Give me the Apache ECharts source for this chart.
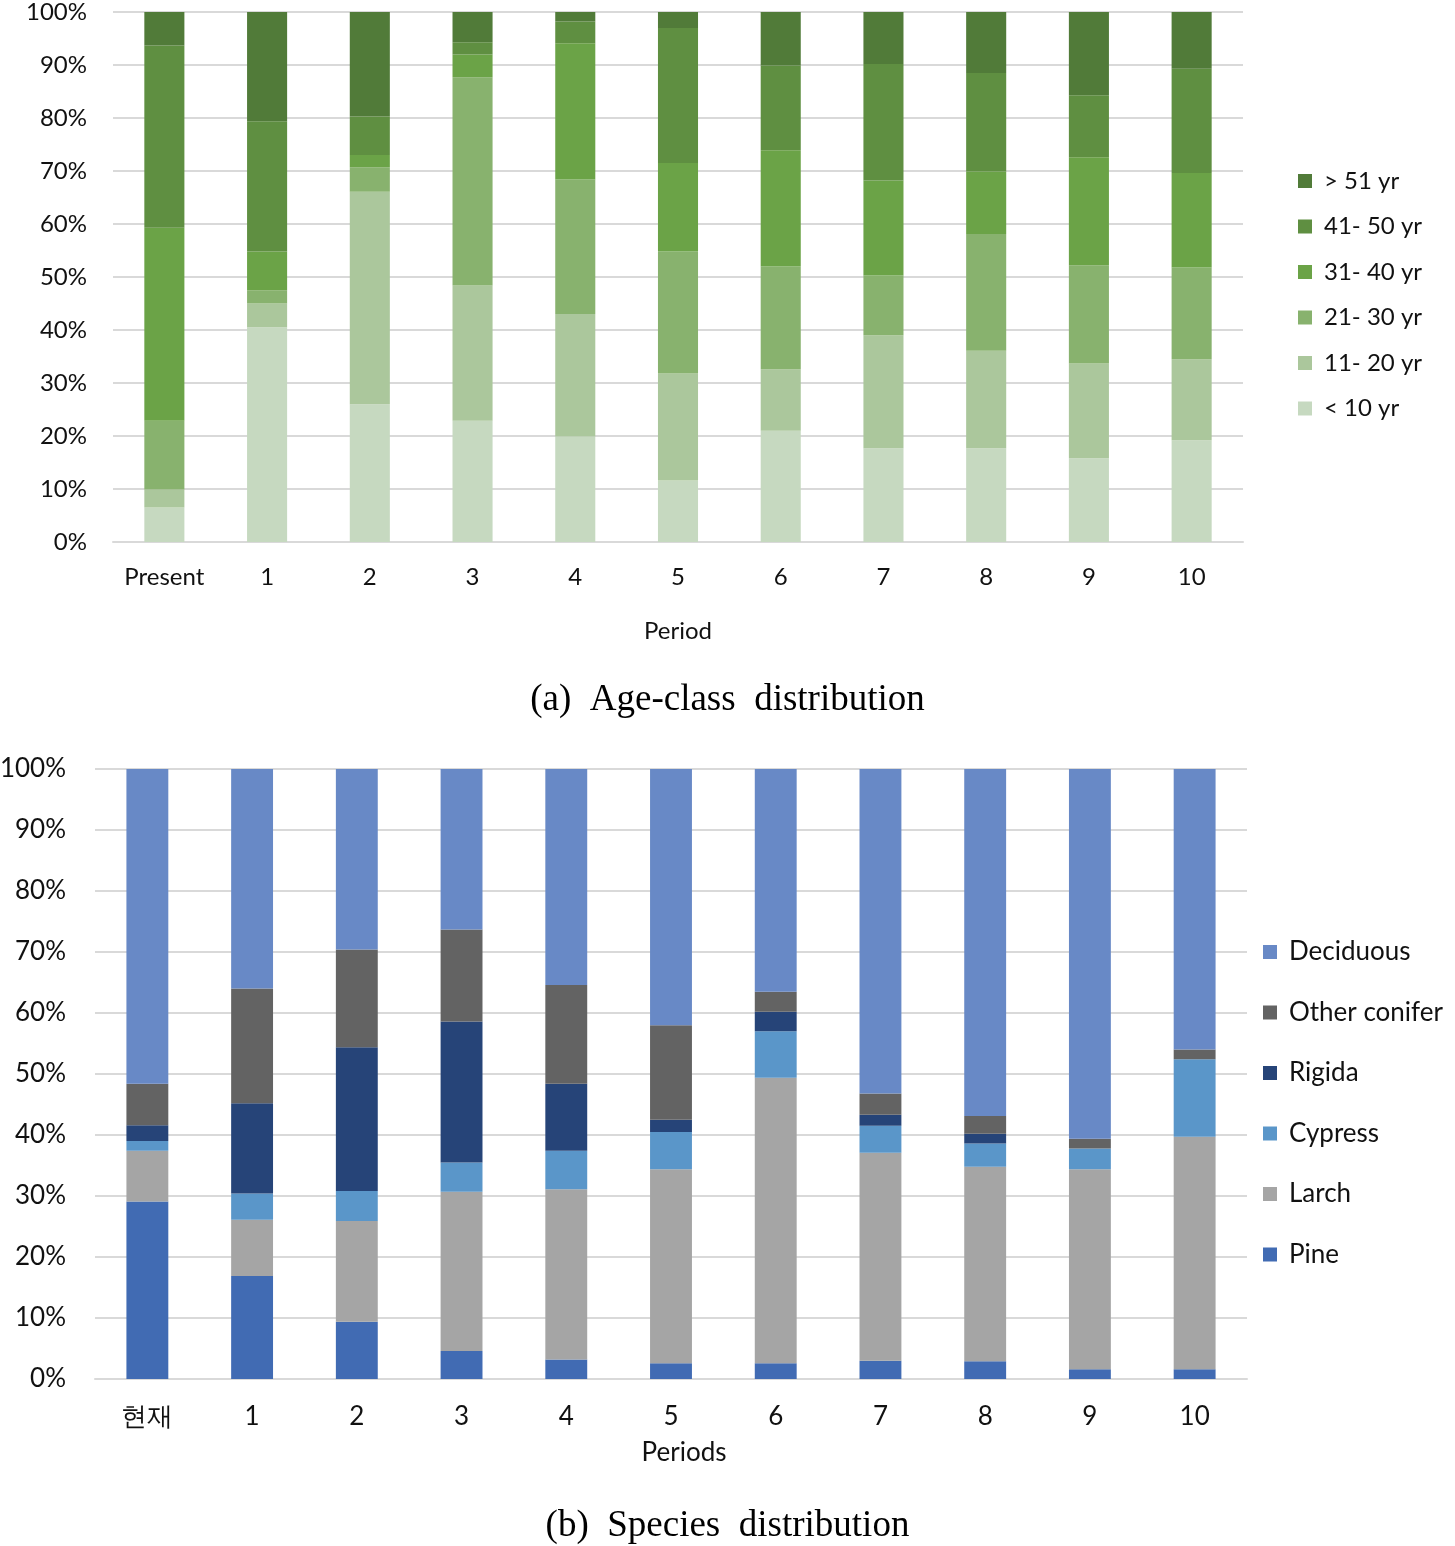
<!DOCTYPE html>
<html>
<head>
<meta charset="utf-8">
<script src="https://cdn.jsdelivr.net/npm/echarts@6/dist/echarts.min.js"></script>
<style>
html,body{margin:0;padding:0;background:#fff;}
#c{width:1455px;height:1546px;}
</style>
</head>
<body>
<div id="c"></div>
<script>
// ---- Chart (a): Age-class distribution ----
var ageCategories = ['Present','1','2','3','4','5','6','7','8','9','10'];
var ageNames = ['< 10 yr','11- 20 yr','21- 30 yr','31- 40 yr','41- 50 yr','> 51 yr'];
var ageLt10   = [6.5, 40.5, 26.0, 22.9, 19.9, 11.6, 21.0, 17.7, 17.7, 15.8, 19.2];
var age11_20  = [3.4,  4.5, 40.1, 25.5, 23.1, 20.2, 11.6, 21.3, 18.4, 17.9, 15.3];
var age21_30  = [13.0, 2.5,  4.6, 39.3, 25.4, 23.0, 19.4, 11.3, 22.0, 18.5, 17.3];
var age31_40  = [36.4, 7.3,  2.3,  4.3, 25.7, 16.7, 21.9, 17.9, 11.8, 20.4, 17.8];
var age41_50  = [34.4, 24.6, 7.3,  2.3,  4.1, 25.5, 16.0, 22.0, 18.6, 11.7, 19.7];
var ageGt51   = [6.3, 20.6, 19.7,  5.7,  1.8,  3.0, 10.1,  9.8, 11.5, 15.7, 10.7];
var ageColors = ['#c6d9c0','#abc79c','#88b26e','#6ba347','#5f8f41','#517b39'];

// ---- Chart (b): Species distribution ----
var spCategories = ['현재','1','2','3','4','5','6','7','8','9','10'];
var spNames = ['Pine','Larch','Cypress','Rigida','Other conifer','Deciduous'];
var spPine      = [29.1, 16.9,  9.4,  4.6,  3.2,  2.6,  2.6,  3.0,  2.9,  1.6,  1.6];
var spLarch     = [8.3,   9.2, 16.5, 26.1, 27.9, 31.8, 46.8, 34.1, 31.9, 32.8, 38.1];
var spCypress   = [1.6,   4.3,  4.9,  4.8,  6.3,  6.1,  7.6,  4.4,  3.8,  3.4, 12.7];
var spRigida    = [2.6,  14.8, 23.6, 23.1, 11.0,  2.0,  3.2,  1.8,  1.6,  0.0,  0.0];
var spOther     = [6.8,  18.8, 16.0, 15.1, 16.2, 15.5,  3.3,  3.5,  2.9,  1.6,  1.6];
var spDeciduous = [51.6, 36.0, 29.6, 26.3, 35.4, 42.0, 36.5, 53.2, 56.9, 60.6, 46.0];
var spColors = ['#416bb3','#a5a5a5','#5a96c9','#264478','#636363','#6889c6'];

var ageData = [ageLt10, age11_20, age21_30, age31_40, age41_50, ageGt51];
var spData = [spPine, spLarch, spCypress, spRigida, spOther, spDeciduous];

var sansFont = 'Lato, "Open Sans", sans-serif';
var serifFont = '"Liberation Serif", "DejaVu Serif", serif';

var series = [];
ageNames.forEach(function(n, i){
  series.push({
    name: n, type: 'bar', stack: 'age', xAxisIndex: 0, yAxisIndex: 0,
    barWidth: '39%', data: ageData[i],
    itemStyle: {color: ageColors[i]}
  });
});
spNames.forEach(function(n, i){
  series.push({
    name: n, type: 'bar', stack: 'sp', xAxisIndex: 1, yAxisIndex: 1,
    barWidth: '40%', data: spData[i],
    itemStyle: {color: spColors[i]}
  });
});

var pctFmt = function(v){ return v + '%'; };

var option = {
  animation: false,
  backgroundColor: '#ffffff',
  title: [
    {text: '(a)  Age-class  distribution', left: 'center', top: 677,
     textStyle: {fontFamily: serifFont, fontSize: 37, fontWeight: 'normal', color: '#000'}},
    {text: '(b)  Species  distribution', left: 'center', top: 1503,
     textStyle: {fontFamily: serifFont, fontSize: 37, fontWeight: 'normal', color: '#000'}}
  ],
  legend: [
    {orient: 'vertical', left: 1293, top: 164, itemWidth: 14, itemHeight: 14, itemGap: 21.5,
     icon: 'rect', data: ageNames.slice().reverse(),
     textStyle: {fontFamily: sansFont, fontSize: 24, color: '#111', padding: [0,0,0,7]}},
    {orient: 'vertical', left: 1258, top: 934, itemWidth: 14, itemHeight: 14, itemGap: 34.5,
     icon: 'rect', data: spNames.slice().reverse(),
     textStyle: {fontFamily: sansFont, fontSize: 26, color: '#111', padding: [0,0,0,7]}}
  ],
  grid: [
    {left: 113, top: 12, width: 1130, height: 530, outerBoundsMode: 'none', containLabel: false},
    {left: 95, top: 769, width: 1152, height: 610, outerBoundsMode: 'none', containLabel: false}
  ],
  xAxis: [
    {type: 'category', gridIndex: 0, data: ageCategories,
     name: 'Period', nameLocation: 'middle', nameGap: 77,
     nameTextStyle: {fontFamily: sansFont, fontSize: 24, color: '#111'},
     axisLine: {lineStyle: {color: '#d9d9d9', width: 2}}, axisTick: {show: false},
     axisLabel: {interval: 0, fontFamily: sansFont, fontSize: 24, color: '#111', margin: 23}},
    {type: 'category', gridIndex: 1, data: spCategories,
     name: 'Periods', nameLocation: 'middle', nameGap: 61,
     nameTextStyle: {fontFamily: sansFont, fontSize: 26, color: '#111', padding: [0,0,0,26]},
     axisLine: {lineStyle: {color: '#d9d9d9', width: 2}}, axisTick: {show: false},
     axisLabel: {interval: 0, fontFamily: sansFont, fontSize: 26, color: '#111', margin: 25}}
  ],
  yAxis: [
    {type: 'value', gridIndex: 0, min: 0, max: 100, interval: 10,
     axisLine: {show: false}, axisTick: {show: false},
     splitLine: {lineStyle: {color: '#d9d9d9', width: 2}},
     axisLabel: {formatter: pctFmt, fontFamily: sansFont, fontSize: 24, color: '#111', margin: 26}},
    {type: 'value', gridIndex: 1, min: 0, max: 100, interval: 10,
     axisLine: {show: false}, axisTick: {show: false},
     splitLine: {lineStyle: {color: '#d9d9d9', width: 2}},
     axisLabel: {formatter: pctFmt, fontFamily: sansFont, fontSize: 26, color: '#111', margin: 29}}
  ],
  series: series
};

var chart = echarts.init(document.getElementById('c'), null, {renderer: 'canvas'});
chart.setOption(option);
</script>
</body>
</html>
